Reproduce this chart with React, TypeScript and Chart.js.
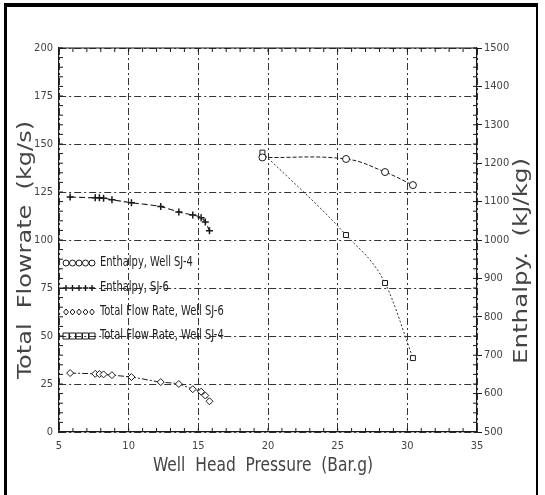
import React, { useEffect, useRef } from 'react';
import { Chart, registerables } from 'chart.js';

Chart.register(...registerables);

// Well SJ-6 measurements
const sj6Pressure = [5.8, 7.6, 7.9, 8.2, 8.8, 10.2, 12.3, 13.6, 14.6, 15.2, 15.5, 15.8];
const sj6Flow = [30.7, 30.3, 30.2, 30.0, 29.6, 28.6, 26.0, 25.0, 22.3, 21.0, 19.0, 16.0];
const sj6Enthalpy = [1112, 1110, 1110, 1109, 1105, 1097, 1087, 1073, 1065, 1058, 1047, 1024];

// Well SJ-4 measurements
const sj4Pressure = [19.6, 25.6, 28.4, 30.4];
const sj4Flow = [145.5, 102.6, 77.6, 38.5];
const sj4Enthalpy = [1215, 1211, 1177, 1143];

const xTicks = [5, 10, 15, 20, 25, 30, 35];
const flowTicks = [0, 25, 50, 75, 100, 125, 150, 175, 200];
const enthalpyTicks = [500, 600, 700, 800, 900, 1000, 1100, 1200, 1300, 1400, 1500];

const legendLabels = [
  'Enthalpy, Well SJ-4',
  'Enthalpy, SJ-6',
  'Total Flow Rate, Well SJ-6',
  'Total Flow Rate, Well SJ-4',
];
const legendRowsAt = [88, 75, 62.5, 50];

const FONT = "'Liberation Sans Narrow', 'DejaVu Sans Condensed', 'Liberation Sans', sans-serif";
const INK = '#1a1a1a';

function pts(xs: number[], ys: number[]) {
  return xs.map((x, i) => ({ x, y: ys[i] }));
}

function drawMarker(ctx: CanvasRenderingContext2D, style: string, x: number, y: number, r: number) {
  ctx.beginPath();
  if (style === 'circle') {
    ctx.arc(x, y, r, 0, Math.PI * 2);
  } else if (style === 'cross') {
    ctx.moveTo(x - r, y); ctx.lineTo(x + r, y);
    ctx.moveTo(x, y - r); ctx.lineTo(x, y + r);
  } else if (style === 'rectRot') {
    ctx.moveTo(x, y - r); ctx.lineTo(x + r * 0.8, y); ctx.lineTo(x, y + r); ctx.lineTo(x - r * 0.8, y); ctx.closePath();
  } else {
    ctx.rect(x - r, y - r, 2 * r, 2 * r);
  }
  ctx.stroke();
}

// draw text centred at (0,0) squeezed/stretched to a given width
function fitText(ctx: CanvasRenderingContext2D, text: string, width: number) {
  const w = ctx.measureText(text).width;
  ctx.save();
  ctx.scale(width / w, 1);
  ctx.fillText(text, 0, 0);
  ctx.restore();
}

const decorPlugin = {
  id: 'decor',
  afterDraw(chart: any) {
    const { ctx, chartArea: a, scales } = chart;
    const sx = scales.x, sy = scales.y, sy2 = scales.y2;
    ctx.save();
    ctx.strokeStyle = INK;
    ctx.lineWidth = 1.2;
    ctx.beginPath(); ctx.moveTo(a.left, a.top); ctx.lineTo(a.right, a.top); ctx.stroke();
    ctx.lineWidth = 1;
    for (let v = xTicks[0]; v <= xTicks[xTicks.length - 1]; v += 1) {
      const px = sx.getPixelForValue(v);
      ctx.beginPath();
      ctx.moveTo(px, a.bottom); ctx.lineTo(px, a.bottom - 4);
      ctx.moveTo(px, a.top); ctx.lineTo(px, a.top + 4);
      ctx.stroke();
    }
    for (let v = flowTicks[0]; v <= flowTicks[flowTicks.length - 1]; v += 5) {
      const py = sy.getPixelForValue(v);
      ctx.beginPath(); ctx.moveTo(a.left, py); ctx.lineTo(a.left + 4, py); ctx.stroke();
    }
    for (let v = enthalpyTicks[0]; v <= enthalpyTicks[enthalpyTicks.length - 1]; v += 25) {
      const py = sy2.getPixelForValue(v);
      ctx.beginPath(); ctx.moveTo(a.right, py); ctx.lineTo(a.right - 4, py); ctx.stroke();
    }

    // legend inside plot
    const ds = chart.data.datasets;
    ctx.font = `12px ${FONT}`;
    ctx.fillStyle = '#222';
    ctx.textBaseline = 'middle';
    ctx.textAlign = 'left';
    legendLabels.forEach((label, i) => {
      const py = sy.getPixelForValue(legendRowsAt[i]);
      const style = ds.find((d: any) => d.label === label)?.pointStyle || 'circle';
      ctx.lineWidth = style === 'cross' ? 1.4 : 1;
      for (let k = 0; k < 5; k++) drawMarker(ctx, style, a.left + 7 + k * 6.5, py, 3);
      ctx.save();
      ctx.translate(a.left + 41, py);
      ctx.textAlign = 'left';
      const w = ctx.measureText(label).width;
      ctx.scale(0.92, 1.1);
      ctx.fillText(label, 0, 0);
      ctx.restore();
      void w;
    });

    // axis titles
    ctx.fillStyle = '#444';
    ctx.font = `19px ${FONT}`;
    ctx.textAlign = 'center';
    ctx.save();
    ctx.translate(263, 466);
    fitText(ctx, 'Well  Head  Pressure  (Bar.g)', 220);
    ctx.restore();
    ctx.save();
    ctx.translate(26, 250);
    ctx.rotate(-Math.PI / 2);
    fitText(ctx, 'Total  Flowrate  (kg/s)', 258);
    ctx.restore();
    ctx.save();
    ctx.translate(522, 261);
    ctx.rotate(-Math.PI / 2);
    fitText(ctx, 'Enthalpy.  (kJ/kg)', 206);
    ctx.restore();
    ctx.restore();
  },
};

export default function App() {
  const ref = useRef<HTMLCanvasElement>(null);
  useEffect(() => {
    if (!ref.current) return;
    const gridDash = [7, 3, 2, 3];
    const tickFont = { family: FONT, size: 11 };
    const plain = (v: any) => String(v);
    const chart = new Chart(ref.current, {
      type: 'scatter',
      data: {
        datasets: [
          {
            label: 'Enthalpy, Well SJ-4',
            data: pts(sj4Pressure, sj4Enthalpy),
            yAxisID: 'y2',
            showLine: true,
            tension: 0.4,
            borderColor: INK,
            borderWidth: 1,
            borderDash: [4, 2],
            pointStyle: 'circle',
            pointRadius: 3.5,
            pointBorderColor: INK,
            pointBackgroundColor: '#fff',
            pointBorderWidth: 1,
          },
          {
            label: 'Enthalpy, SJ-6',
            data: pts(sj6Pressure, sj6Enthalpy),
            yAxisID: 'y2',
            showLine: true,
            cubicInterpolationMode: 'monotone',
            borderColor: INK,
            borderWidth: 1.1,
            borderDash: [6, 3],
            pointStyle: 'cross',
            pointRadius: 3.5,
            pointBorderColor: INK,
            pointBorderWidth: 1.5,
          },
          {
            label: 'Total Flow Rate, Well SJ-6',
            data: pts(sj6Pressure, sj6Flow),
            yAxisID: 'y',
            showLine: true,
            cubicInterpolationMode: 'monotone',
            borderColor: INK,
            borderWidth: 1,
            borderDash: [6, 2, 2, 2],
            pointStyle: 'rectRot',
            pointRadius: 3.5,
            pointBorderColor: INK,
            pointBackgroundColor: '#fff',
            pointBorderWidth: 1,
          },
          {
            label: 'Total Flow Rate, Well SJ-4',
            data: pts(sj4Pressure, sj4Flow),
            yAxisID: 'y',
            showLine: true,
            cubicInterpolationMode: 'monotone',
            borderColor: '#333',
            borderWidth: 1,
            borderDash: [2, 2],
            pointStyle: 'rect',
            pointRadius: 3.5,
            pointBorderColor: INK,
            pointBackgroundColor: '#fff',
            pointBorderWidth: 1,
          },
        ],
      },
      options: {
        animation: false,
        responsive: false,
        layout: { padding: { top: 48, left: 0, right: 0, bottom: 0 } },
        plugins: { legend: { display: false }, tooltip: { enabled: false } },
        scales: {
          x: {
            type: 'linear',
            min: xTicks[0],
            max: xTicks[xTicks.length - 1],
            afterFit: (s: any) => { s.height = 63; },
            afterBuildTicks: (s: any) => { s.ticks = xTicks.map((v) => ({ value: v })); },
            ticks: { padding: 8, color: '#444', font: tickFont, callback: plain },
            grid: { color: '#333', lineWidth: 1, drawTicks: false },
            border: { display: true, color: INK, width: 1.2, dash: gridDash },
          },
          y: {
            type: 'linear',
            position: 'left',
            min: flowTicks[0],
            max: flowTicks[flowTicks.length - 1],
            afterFit: (s: any) => { s.width = 59; },
            afterBuildTicks: (s: any) => { s.ticks = flowTicks.map((v) => ({ value: v })); },
            ticks: { padding: 6, color: '#444', font: tickFont, callback: plain },
            grid: { color: '#333', lineWidth: 1, drawTicks: false },
            border: { display: true, color: INK, width: 1.2, dash: gridDash },
          },
          y2: {
            type: 'linear',
            position: 'right',
            min: enthalpyTicks[0],
            max: enthalpyTicks[enthalpyTicks.length - 1],
            afterFit: (s: any) => { s.width = 68; },
            afterBuildTicks: (s: any) => { s.ticks = enthalpyTicks.map((v) => ({ value: v })); },
            ticks: { padding: 2, color: '#444', font: tickFont, callback: plain },
            grid: { drawOnChartArea: false, drawTicks: true, tickLength: 5, tickColor: INK, tickWidth: 1 },
            border: { display: true, color: INK, width: 1.2 },
          },
        },
      },
      plugins: [decorPlugin],
    } as any);
    return () => chart.destroy();
  }, []);

  return (
    <div style={{ position: 'fixed', left: 0, top: 0, width: 545, height: 495, background: '#fff', overflow: 'hidden' }}>
      <canvas ref={ref} width={545} height={495} style={{ position: 'absolute', left: 0, top: 0, width: 545, height: 495 }} />
      <div
        style={{
          position: 'absolute',
          left: 4,
          top: 3,
          width: 534,
          height: 520,
          borderLeft: '3px solid #000',
          borderTop: '4px solid #000',
          borderRight: '2px solid #000',
          boxSizing: 'border-box',
          pointerEvents: 'none',
        }}
      />
    </div>
  );
}
